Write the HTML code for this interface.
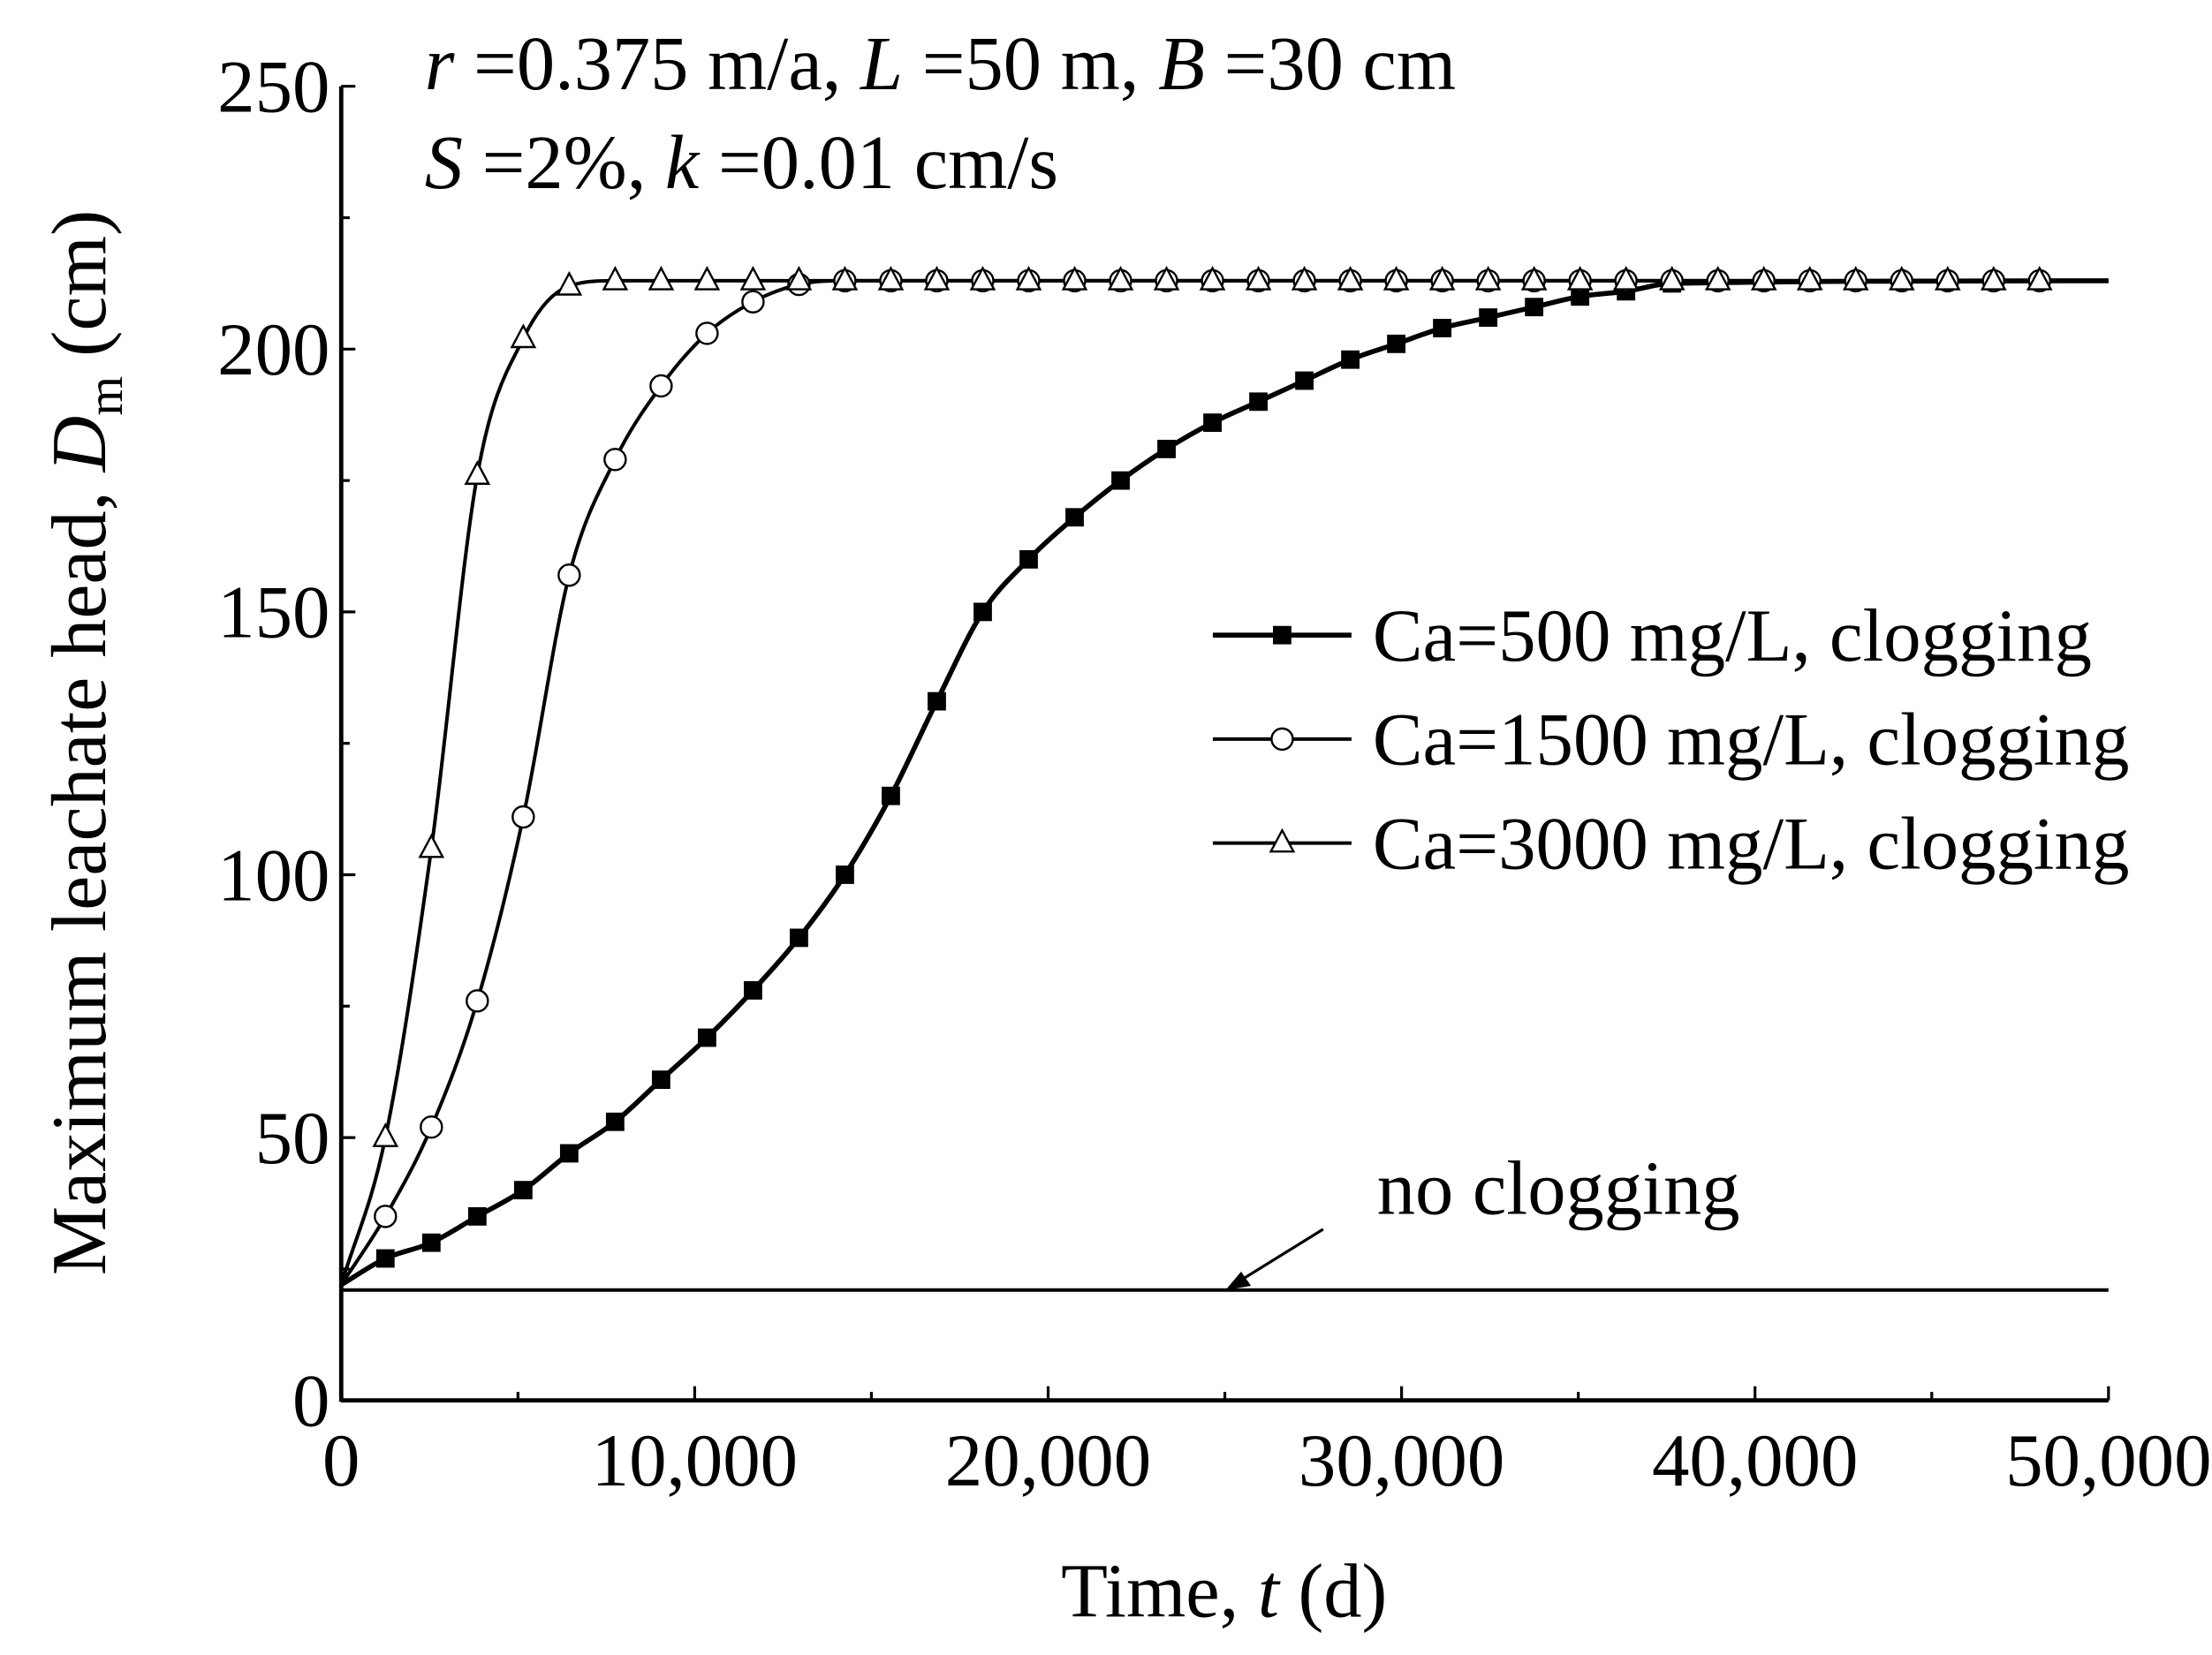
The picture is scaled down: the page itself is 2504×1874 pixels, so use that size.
<!DOCTYPE html>
<html><head><meta charset="utf-8"><style>
html,body{margin:0;padding:0;background:#fff}
svg{display:block}
text{font-family:"Liberation Serif",serif;fill:#000}
</style></head><body>
<svg id="chart" width="2504" height="1874" viewBox="0 0 1563 1170" xmlns="http://www.w3.org/2000/svg">
<g id="axes"></g>
<g id="series"></g>
<text x="300" y="63" font-size="54"><tspan font-style="italic">r</tspan> =0.375 m/a, <tspan font-style="italic">L</tspan> =50 m, <tspan font-style="italic">B</tspan> =30 cm</text>
<text x="300" y="133" font-size="54"><tspan font-style="italic">S</tspan> =2%, <tspan font-style="italic">k</tspan> =0.01 cm/s</text>
<text x="865" y="1143" font-size="54" text-anchor="middle">Time, <tspan font-style="italic">t</tspan> (d)</text>
<text transform="translate(74,525) rotate(-90)" font-size="55" text-anchor="middle">Maximum leachate head, <tspan font-style="italic">D</tspan><tspan font-size="36" dy="12">m</tspan><tspan dy="-12"> (cm)</tspan></text>
<text x="973" y="858" font-size="54">no clogging</text>
<line x1="935" y1="869" x2="872" y2="908" stroke="#000" stroke-width="2"/>
<polygon points="866,912 877,899 884,909" fill="#000"/>
<g id="legend"></g>
</svg>
<script>
const xTicks=[0,10000,20000,30000,40000,50000];
const xTickLabels=["0","10,000","20,000","30,000","40,000","50,000"];
const yTicks=[0,50,100,150,200,250];
const yTickLabels=["0","50","100","150","200","250"];
const tCa500=[0,1250,2550,3850,5150,6450,7750,9050,10350,11650,12950,14250,15550,16850,18150,19450,20750,22050,23350,24650,25950,27250,28550,29850,31150,32450,33750,35050,36350,37650,50000];
const vCa500=[22,27,30,35,40,47,53,61,69,78,88,100,115,133,150,160,168,175,181,186,190,194,198,201,204,206,208,210,211,212.5,213];
const tCa1500=[0,1250,2550,3850,5150,6450,7750,9050,10350,11650,12950,14250,50000];
const vCa1500=[22,35,52,76,111,157,179,193,203,209,212.3,213,213];
const tCa3000=[0,1250,2550,3850,5150,6450,7750,50000];
const vCa3000=[22,50,105,176,202,212,213,213];
const noClogT=[0,50000];
const noClogV=[21,21];
const NS="http://www.w3.org/2000/svg";
const X0=241,X1=1490,Y0=990,Y1=61;
const sx=t=>X0+(t-0)/(50000-0)*(X1-X0);
const sy=v=>Y0-(v-0)/(250-0)*(Y0-Y1);
function mk(tag,attrs,parent){const e=document.createElementNS(NS,tag);for(const k in attrs)e.setAttribute(k,attrs[k]);parent.appendChild(e);return e;}
const axes=document.getElementById('axes');
let e;
e=mk('line',{x1:X0,y1:Y0,x2:X1,y2:Y0,stroke:'#000','stroke-width':3},axes);


e=mk('line',{x1:X0,y1:Y0+1,x2:X0,y2:Y1,stroke:'#000','stroke-width':3},axes);


xTicks.forEach((t,i)=>{
  e=mk('line',{x1:sx(t),y1:Y0,x2:sx(t),y2:Y0-10,stroke:'#000','stroke-width':2},axes);
  
  
  if(i<xTicks.length-1){e=mk('line',{x1:sx(t+5000),y1:Y0,x2:sx(t+5000),y2:Y0-6,stroke:'#000','stroke-width':2},axes);
  
  }
  e=mk('text',{x:sx(t),y:1050,'font-size':53,'text-anchor':'middle'},axes);e.textContent=xTickLabels[i];
  
  
});
yTicks.forEach((v,i)=>{
  e=mk('line',{x1:X0,y1:sy(v),x2:X0+10,y2:sy(v),stroke:'#000','stroke-width':2},axes);
  
  
  if(i<yTicks.length-1){e=mk('line',{x1:X0,y1:sy(v+25),x2:X0+6,y2:sy(v+25),stroke:'#000','stroke-width':2},axes);
  
  }
  e=mk('text',{x:233,y:sy(v)+18,'font-size':53,'text-anchor':'end'},axes);e.textContent=yTickLabels[i];
  
  
});
function monoPath(ts,vs){
  const p=ts.map((t,i)=>[sx(t),sy(vs[i])]);
  const n=p.length;const d=[],m=[];
  for(let i=0;i<n-1;i++)d.push((p[i+1][1]-p[i][1])/(p[i+1][0]-p[i][0]));
  m[0]=d[0];m[n-1]=d[n-2];
  for(let i=1;i<n-1;i++){m[i]=(d[i-1]*d[i]<=0)?0:(d[i-1]+d[i])/2;}
  for(let i=0;i<n-1;i++){
    if(d[i]===0){m[i]=0;m[i+1]=0;continue;}
    const a=m[i]/d[i],b=m[i+1]/d[i],s=a*a+b*b;
    if(s>9){const tt=3/Math.sqrt(s);m[i]=tt*a*d[i];m[i+1]=tt*b*d[i];}
  }
  let s='M'+p[0][0]+','+p[0][1];
  for(let i=0;i<n-1;i++){
    const h=(p[i+1][0]-p[i][0])/3;
    s+=' C'+(p[i][0]+h)+','+(p[i][1]+m[i]*h)+' '+(p[i+1][0]-h)+','+(p[i+1][1]-m[i+1]*h)+' '+p[i+1][0]+','+p[i+1][1];
  }
  return s;
}
function valAt(ts,vs,t){for(let i=0;i<ts.length-1;i++){if(t>=ts[i]&&t<=ts[i+1]){return vs[i]+(vs[i+1]-vs[i])*(t-ts[i])/(ts[i+1]-ts[i]);}}return vs[vs.length-1];}
const S=document.getElementById('series');
e=mk('path',{d:monoPath(noClogT,noClogV),fill:'none',stroke:'#000','stroke-width':2.5},S);


const seriesDefs=[[tCa500,vCa500,'ca500',3.5],[tCa1500,vCa1500,'ca1500',2.5],[tCa3000,vCa3000,'ca3000',2.5]];
seriesDefs.forEach(([ts,vs,nm,w])=>{
  e=mk('path',{d:monoPath(ts,vs),fill:'none',stroke:'#000','stroke-width':w},S);
  
  
});
function marker(type,x,y,parent){
  let m;
  if(type==='sq')m=mk('rect',{x:x-6.5,y:y-6.5,width:13,height:13,fill:'#000'},parent);
  else if(type==='ci')m=mk('circle',{cx:x,cy:y,r:7.5,fill:'#fff',stroke:'#000','stroke-width':1.5},parent);
  else m=mk('polygon',{points:`${x},${y-9} ${x-8},${y+6} ${x+8},${y+6}`,fill:'#fff',stroke:'#000','stroke-width':1.5},parent);
  return m;
}
for(let i=1;i<tCa500.length-1;i++){
  e=marker('sq',sx(tCa500[i]),sy(vCa500[i]),S);
  
  
}
for(let t=1250;t<=48100;t+=1300){
  e=marker('ci',sx(t),sy(valAt(tCa1500,vCa1500,t)),S);
  
  
}
for(let t=1250;t<=48100;t+=1300){
  e=marker('tr',sx(t),sy(valAt(tCa3000,vCa3000,t)),S);
  
  
}
const L=document.getElementById('legend');
const legendLabels=["Ca=500 mg/L, clogging","Ca=1500 mg/L, clogging","Ca=3000 mg/L, clogging"];
const legendTypes=['sq','ci','tr'];
legendLabels.forEach((lab,i)=>{
  const y=449+i*73.5;
  e=mk('line',{x1:857,y1:y,x2:955,y2:y,stroke:'#000','stroke-width':i===0?3.5:2.5},L);
  
  
  e=marker(legendTypes[i],906,y,L);
  
  
  e=mk('text',{x:970,y:y+18,'font-size':53},L);e.textContent=lab;
  
  
});
</script>
</body></html>
